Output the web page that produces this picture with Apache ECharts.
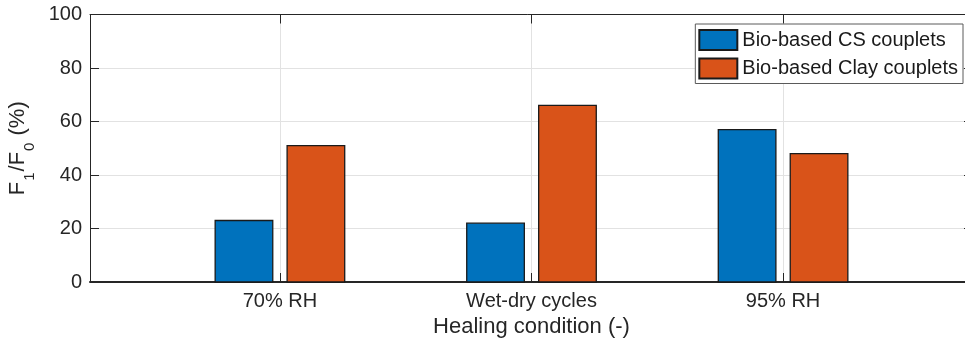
<!DOCTYPE html>
<html>
<head>
<meta charset="utf-8">
<script src="https://cdn.jsdelivr.net/npm/echarts@6/dist/echarts.min.js"></script>
<style>
  html, body { margin: 0; padding: 0; background: #fff; }
  #chart { width: 965px; height: 348px; }
</style>
</head>
<body>
<div id="chart"></div>
<script>
// Healing conditions on the x axis and the two couplet series (F1/F0 in %)
const categories = ['70% RH', 'Wet-dry cycles', '95% RH'];
const seriesNames = ['Bio-based CS couplets', 'Bio-based Clay couplets'];
const csValues = [23, 22, 57];
const clayValues = [51, 66, 48];
const yTicks = [0, 20, 40, 60, 80, 100];

const FONT = '"Liberation Sans", Arial, Helvetica, sans-serif';
const TEXT = '#262626';
const GRID = '#e2e2e2';
const BAR_W = 0.229;     // bar width in x-axis units
const OFFSET = 0.143;    // distance of each bar centre from its group centre
const catPositions = categories.map((_, i) => i + 1);

// Rectangle from baseline to value, placed through the axis scales
function barRenderer(offset) {
  return function (params, api) {
    const x = api.value(0) + offset;
    const top = api.coord([x - BAR_W / 2, api.value(1)]);
    const base = api.coord([x + BAR_W / 2, 0]);
    return {
      type: 'rect',
      shape: { x: top[0], y: top[1], width: base[0] - top[0], height: base[1] - top[1] },
      style: api.style()
    };
  };
}

const chart = echarts.init(document.getElementById('chart'), null, { renderer: 'canvas' });

const xMin = 0.245, xMax = 3.755;
const yMin = yTicks[0], yMax = yTicks[yTicks.length - 1], yStep = yTicks[1] - yTicks[0];

chart.setOption({
  animation: false,
  backgroundColor: '#fff',
  grid: { left: 90, top: 14.5, width: 883, height: 267.5, containLabel: false, outerBoundsMode: 'none' },
  legend: {
    orient: 'vertical',
    right: 2,
    top: 24,
    itemWidth: 38,
    itemHeight: 20,
    itemGap: 6.5,
    padding: [5, 5, 4, 3],
    borderColor: '#5a5a5a',
    borderWidth: 1,
    backgroundColor: '#fff',
    textStyle: { fontSize: 20, color: '#1a1a1a', fontFamily: FONT },
    data: seriesNames.map(n => ({ name: n, icon: 'rect' }))
  },
  xAxis: [
    {
      type: 'value', min: xMin, max: xMax, position: 'bottom',
      axisLine: { show: true, onZero: false, lineStyle: { color: TEXT, width: 2 } },
      axisTick: { show: true, inside: true, length: 9, customValues: catPositions, lineStyle: { color: TEXT } },
      axisLabel: {
        customValues: catPositions,
        formatter: v => categories[Math.round(v) - 1],
        color: TEXT, fontSize: 20, fontFamily: FONT, margin: 9
      },
      splitLine: { show: true, lineStyle: { color: GRID, width: 1 } },
      name: 'Healing condition (-)',
      nameLocation: 'middle',
      nameGap: 32,
      nameTextStyle: { color: TEXT, fontSize: 22, fontFamily: FONT }
    },
    {
      type: 'value', min: xMin, max: xMax, position: 'top',
      axisLine: { show: true, onZero: false, lineStyle: { color: TEXT, width: 1 } },
      axisTick: { show: true, inside: true, length: 9, customValues: catPositions, lineStyle: { color: TEXT } },
      axisLabel: { show: false },
      splitLine: { show: false }
    }
  ],
  yAxis: [
    {
      type: 'value', min: yMin, max: yMax, interval: yStep, position: 'left',
      axisLine: { show: true, onZero: false, lineStyle: { color: TEXT, width: 1 } },
      axisTick: { show: true, inside: true, length: 9, lineStyle: { color: TEXT } },
      axisLabel: { color: TEXT, fontSize: 20, fontFamily: FONT, margin: 8 },
      splitLine: { show: true, lineStyle: { color: GRID, width: 1 } },
      name: '{m|F}{s|1}{m|/F}{s|0}{m| (%)}',
      nameLocation: 'middle',
      nameGap: 45,
      nameTextStyle: {
        color: TEXT, fontFamily: FONT,
        rich: {
          m: { fontSize: 22, lineHeight: 22, padding: [0, 0, 9, 0], verticalAlign: 'bottom', color: TEXT, fontFamily: FONT },
          s: { fontSize: 15, lineHeight: 15, padding: [0, 1, 0, 1], verticalAlign: 'bottom', color: TEXT, fontFamily: FONT }
        }
      }
    },
    {
      type: 'value', min: yMin, max: yMax, interval: yStep, position: 'right',
      axisLine: { show: true, onZero: false, lineStyle: { color: TEXT, width: 1 } },
      axisTick: { show: true, inside: true, length: 9, lineStyle: { color: TEXT } },
      axisLabel: { show: false },
      splitLine: { show: false }
    }
  ],
  series: [
    {
      name: seriesNames[0],
      type: 'custom',
      xAxisIndex: 0, yAxisIndex: 0,
      renderItem: barRenderer(-OFFSET),
      itemStyle: { color: '#0072BD', borderColor: '#1a1a1a', borderWidth: 1.3 },
      encode: { x: 0, y: 1 },
      data: catPositions.map((x, i) => [x, csValues[i]]),
      z: 3
    },
    {
      name: seriesNames[1],
      type: 'custom',
      xAxisIndex: 0, yAxisIndex: 0,
      renderItem: barRenderer(OFFSET),
      itemStyle: { color: '#D95319', borderColor: '#1a1a1a', borderWidth: 1.3 },
      encode: { x: 0, y: 1 },
      data: catPositions.map((x, i) => [x, clayValues[i]]),
      z: 3
    }
  ]
});
</script>
</body>
</html>
